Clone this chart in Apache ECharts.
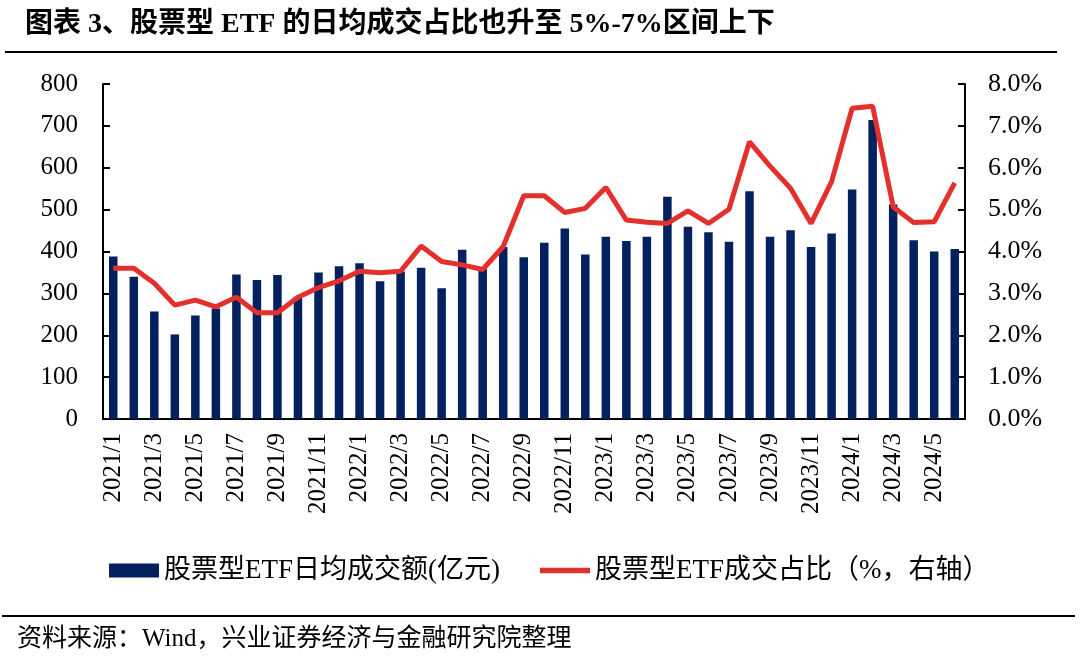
<!DOCTYPE html>
<html><head><meta charset="utf-8">
<script src="https://cdn.jsdelivr.net/npm/echarts@6/dist/echarts.min.js"></script>
<style>html,body{margin:0;padding:0;background:#fff}#c{width:1080px;height:668px}</style>
</head><body><div id="c"></div>
<script>
const categories = [
  '2021/1','2021/2','2021/3','2021/4','2021/5','2021/6','2021/7','2021/8','2021/9','2021/10','2021/11','2021/12',
  '2022/1','2022/2','2022/3','2022/4','2022/5','2022/6','2022/7','2022/8','2022/9','2022/10','2022/11','2022/12',
  '2023/1','2023/2','2023/3','2023/4','2023/5','2023/6','2023/7','2023/8','2023/9','2023/10','2023/11','2023/12',
  '2024/1','2024/2','2024/3','2024/4','2024/5','2024/6'
];
const turnover = [
  388,340,257,202,247,264,345,332,344,292,350,365,
  372,329,352,361,312,404,358,411,386,421,455,393,
  435,425,435,531,459,446,423,544,435,451,411,443,
  548,714,512,427,400,406
];
const share = [
  3.60,3.60,3.24,2.72,2.84,2.68,2.91,2.54,2.54,2.91,3.14,3.30,
  3.53,3.49,3.53,4.13,3.76,3.68,3.57,4.12,5.33,5.33,4.93,5.03,
  5.53,4.75,4.70,4.67,4.97,4.67,5.01,6.62,6.04,5.51,4.67,5.67,
  7.42,7.47,5.07,4.69,4.71,5.64
];
const leftTicks = [0,100,200,300,400,500,600,700,800];
const rightTicks = [0,1,2,3,4,5,6,7,8];
const seriesNames = ['股票型ETF日均成交额(亿元)','股票型ETF成交占比（%，右轴）'];

const serif = '"Liberation Serif", "Times New Roman", "Noto Sans CJK SC", serif';
const chart = echarts.init(document.getElementById('c'), null, {renderer:'canvas'});
chart.setOption({
  animation: false,
  backgroundColor: '#fff',
  title: [
    {text: '图表 3、股票型 ETF 的日均成交占比也升至 5%-7%区间上下', left: 20, top: 6,
     textStyle: {fontFamily: serif, fontWeight: 'bold', fontSize: 28, color: '#000'}},
    {text: '资料来源：Wind，兴业证券经济与金融研究院整理', left: 12, top: 622,
     textStyle: {fontFamily: serif, fontWeight: 'normal', fontSize: 25, color: '#000'}}
  ],
  graphic: [
    {type:'line', shape:{x1:5,y1:52,x2:1057,y2:52}, style:{stroke:'#000', lineWidth:2}},
    {type:'line', shape:{x1:2,y1:616,x2:1075,y2:616}, style:{stroke:'#000', lineWidth:2}}
  ],
  legend: {
    left: 104, top: 552, itemGap: 40, itemWidth: 50, itemHeight: 14,
    textStyle: {fontFamily: serif, fontSize: 27, color: '#000'},
    data: [
      {name: seriesNames[0], icon: 'rect'},
      {name: seriesNames[1], icon: 'path://M0,0 L90,0 L90,10 L0,10 Z'}
    ]
  },
  grid: {left: 103, right: 115, top: 84, bottom: 249, containLabel: false},
  xAxis: {
    type: 'category', data: categories, boundaryGap: true,
    axisLine: {lineStyle: {color: '#000', width: 2}},
    axisTick: {show: false},
    axisLabel: {interval: 1, rotate: 90, fontFamily: serif, fontSize: 25, color: '#000', margin: 14}
  },
  yAxis: [
    {type: 'value', min: leftTicks[0], max: leftTicks[leftTicks.length-1], interval: 100,
     splitLine: {show: false},
     axisLine: {show: true, lineStyle: {color: '#000', width: 2}},
     axisTick: {show: true, inside: true, length: 7, lineStyle: {color: '#000', width: 2}},
     axisLabel: {fontFamily: serif, fontSize: 25, color: '#000', margin: 25}},
    {type: 'value', min: rightTicks[0], max: rightTicks[rightTicks.length-1], interval: 1,
     splitLine: {show: false},
     axisLine: {show: true, lineStyle: {color: '#000', width: 2}},
     axisTick: {show: true, inside: true, length: 7, lineStyle: {color: '#000', width: 2}},
     axisLabel: {fontFamily: serif, fontSize: 26, color: '#000', margin: 23,
       formatter: v => v.toFixed(1) + '%'}}
  ],
  series: [
    {name: seriesNames[0], type: 'bar', data: turnover, barWidth: 8.5,
     itemStyle: {color: '#03205F'}},
    {name: seriesNames[1], type: 'line', yAxisIndex: 1, data: share,
     symbol: 'none', lineStyle: {color: '#E3302D', width: 5}, itemStyle: {color: '#E3302D'}}
  ]
});
</script></body></html>
